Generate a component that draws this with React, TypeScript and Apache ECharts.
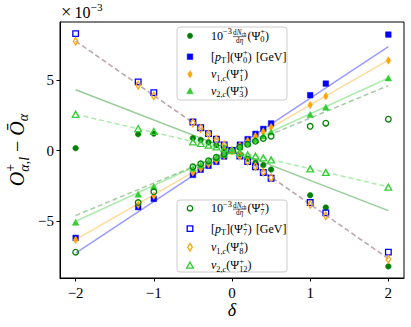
import React, { useEffect, useRef } from 'react';
import * as echarts from 'echarts';

// ---------------- data (values in units of 1e-3) ----------------
const delta = [-2, -1.2, -1, -0.5, -0.4, -0.3, -0.2, -0.1, 0, 0.1, 0.2, 0.3, 0.4, 0.5, 1, 1.2, 2];

const dNchPsi0 = [0.17, 1.16, 1.2, 0.88, 0.76, 0.59, 0.38, 0.18, 0, -0.28, -0.58, -0.85, -1.03, -1.34, -3.16, -4.03, -8.2];
const pTPsi0 = [-6.18, -4.0, -3.42, -1.72, -1.36, -1.08, -0.8, -0.42, 0, 0.42, 0.81, 1.18, 1.53, 1.92, 3.92, 4.74, 8.21];
const v1Psi1 = [-6.32, -3.84, -3.2, -1.55, -1.27, -0.97, -0.7, -0.36, 0, 0.36, 0.69, 1.02, 1.34, 1.66, 3.23, 3.85, 6.37];
const v2Psi3 = [-5.07, -3.09, -2.55, -1.25, -1.02, -0.77, -0.52, -0.27, 0, 0.27, 0.52, 0.78, 1.03, 1.32, 2.55, 3.07, 5.14];
const dNchPsi7 = [-7.19, -3.68, -2.92, -1.15, -0.94, -0.72, -0.48, -0.25, 0, 0.24, 0.44, 0.66, 0.86, 1.02, 1.72, 1.94, 2.22];
const pTPsi7 = [8.28, 4.86, 4.1, 2.02, 1.62, 1.2, 0.8, 0.4, 0, -0.39, -0.78, -1.15, -1.55, -1.96, -3.68, -4.41, -7.19];
const v1Psi8 = [7.74, 4.63, 3.87, 1.95, 1.56, 1.16, 0.78, 0.39, 0, -0.38, -0.76, -1.13, -1.52, -1.92, -3.82, -4.62, -7.69];
const v2Psi12 = [2.57, 1.56, 1.35, 0.62, 0.5, 0.38, 0.26, 0.13, 0, -0.13, -0.3, -0.4, -0.52, -0.66, -1.3, -1.55, -2.59];

// linear fits, evaluated at the ends of the delta range
const fitX = [-2, 2];
const fitDNchPsi0 = [4.3, -4.25];
const fitPTPsi0 = [-7.26, 7.36];
const fitV1Psi1 = [-6.3, 6.4];
const fitV2Psi3 = [-5.0, 5.14];
const fitDNchPsi7 = [-4.6, 4.6];
const fitPTPsi7 = [7.75, -7.65];
const fitV1Psi8 = [7.75, -7.65];
const fitV2Psi12 = [2.57, -2.57];

const xTicks = [-2, -1, 0, 1, 2];
const yTicks = [-5, 0, 5];

// ---------------- styling ----------------
const FONT = '"Liberation Serif", "DejaVu Serif", serif';
const GREEN = '#008000';
const BLUE = '#0000ff';
const ORANGE = '#ffa500';
const LIME = '#32cd32';

type Tok = { t: string; sc?: number; b?: number; it?: boolean };
type Item = Tok | { frac: [Tok[], Tok[]] } | { stack: [Tok[], Tok[]] } | { gap: number };

let mctx: CanvasRenderingContext2D | null = null;
function tw(tok: Tok, F: number): number {
  if (!mctx) mctx = document.createElement('canvas').getContext('2d');
  const size = F * (tok.sc ?? 1);
  mctx!.font = `${tok.it ? 'italic ' : ''}${size}px ${FONT}`;
  return mctx!.measureText(tok.t).width;
}
function runW(toks: Tok[], F: number) {
  return toks.reduce((s, t) => s + tw(t, F), 0);
}
function itemW(it: Item, F: number): number {
  if ('gap' in it) return it.gap * F;
  if ('frac' in it) return Math.max(runW(it.frac[0], F), runW(it.frac[1], F)) + 0.2 * F;
  if ('stack' in it) return Math.max(runW(it.stack[0], F), runW(it.stack[1], F));
  return tw(it as Tok, F);
}
function mathW(items: Item[], F: number) {
  return items.reduce((s, i) => s + itemW(i, F), 0);
}
function tokEl(tok: Tok, x: number, B: number, F: number, z: number): any {
  const size = F * (tok.sc ?? 1);
  const base = B + (tok.b ?? 0) * F;
  return {
    type: 'text',
    x,
    y: base - 0.34 * size,
    z,
    style: {
      text: tok.t,
      fontSize: size,
      fontFamily: FONT,
      fontStyle: tok.it ? 'italic' : 'normal',
      fill: '#000',
      textAlign: 'left',
      align: 'left',
      textVerticalAlign: 'middle',
      verticalAlign: 'middle',
    },
  };
}
function placeRun(toks: Tok[], x: number, B: number, F: number, out: any[], z: number) {
  let cx = x;
  for (const t of toks) {
    out.push(tokEl(t, cx, B, F, z));
    cx += tw(t, F);
  }
  return cx;
}
function mathEls(items: Item[], x: number, B: number, F: number, z = 100): any[] {
  const out: any[] = [];
  let cx = x;
  for (const it of items) {
    if ('gap' in it) {
      cx += it.gap * F;
      continue;
    }
    if ('frac' in it) {
      const wn = runW(it.frac[0], F);
      const wd = runW(it.frac[1], F);
      const w = Math.max(wn, wd);
      const x0 = cx + 0.1 * F;
      placeRun(it.frac[0], x0 + (w - wn) / 2, B, F, out, z);
      placeRun(it.frac[1], x0 + (w - wd) / 2, B, F, out, z);
      out.push({
        type: 'line',
        z,
        shape: { x1: x0, y1: B - 0.27 * F, x2: x0 + w, y2: B - 0.27 * F },
        style: { stroke: '#000', lineWidth: 0.6 },
      });
      cx += w + 0.2 * F;
      continue;
    }
    if ('stack' in it) {
      const a = placeRun(it.stack[0], cx, B, F, out, z);
      const b = placeRun(it.stack[1], cx, B, F, out, z);
      cx = Math.max(a, b);
      continue;
    }
    out.push(tokEl(it as Tok, cx, B, F, z));
    cx += tw(it as Tok, F);
  }
  return out;
}

const sub = (t: string, it = false): Tok => ({ t, sc: 0.7, b: 0.22, it });
const sup = (t: string): Tok => ({ t, sc: 0.7, b: -0.42 });
const psi = (n: string): Item[] => [{ t: '(Ψ' }, { stack: [[sub(n)], [sup('+')]] }, { t: ')' }];
const dndeta: Item = {
  frac: [
    [
      { t: 'd', sc: 0.6, b: -0.36 },
      { t: 'N', sc: 0.6, b: -0.36, it: true },
      { t: 'ch', sc: 0.42, b: -0.28 },
    ],
    [
      { t: 'd', sc: 0.6, b: 0.26 },
      { t: 'η', sc: 0.6, b: 0.26, it: true },
    ],
  ],
};
const labDNch = (n: string): Item[] => [{ t: '10' }, sup('−3'), dndeta, ...psi(n)];
const labPT = (n: string): Item[] => [{ t: '[' }, { t: 'p', it: true }, sub('T'), { t: ']' }, ...psi(n), { gap: 0.35 }, { t: '[GeV]' }];
const labV = (k: string, n: string): Item[] => [{ t: 'v', it: true }, { t: k + ',', sc: 0.7, b: 0.22 }, { t: 'c', sc: 0.7, b: 0.22, it: true }, ...psi(n)];

type Mk = { shape: 'circle' | 'rect' | 'diamond' | 'triangle'; color: string; open: boolean };
function markerEl(m: Mk, cx: number, cy: number): any {
  const style = m.open
    ? { fill: 'rgba(255,255,255,0)', stroke: m.color, lineWidth: 1.3 }
    : { fill: m.color, stroke: m.color, lineWidth: 0.5 };
  if (m.shape === 'circle') return { type: 'circle', z: 101, shape: { cx, cy, r: 2.7 }, style };
  if (m.shape === 'rect') return { type: 'rect', z: 101, shape: { x: cx - 2.8, y: cy - 2.8, width: 5.6, height: 5.6 }, style };
  if (m.shape === 'diamond')
    return { type: 'polygon', z: 101, shape: { points: [[cx, cy - 3.8], [cx + 2.3, cy], [cx, cy + 3.8], [cx - 2.3, cy]] }, style };
  return { type: 'polygon', z: 101, shape: { points: [[cx, cy - 3.2], [cx + 3.3, cy + 2.8], [cx - 3.3, cy + 2.8]] }, style };
}

function legendBox(x: number, y: number, w: number, h: number, rows: { yc: number; mk: Mk; lab: Item[] }[]) {
  const F = 12;
  const els: any[] = [
    {
      type: 'rect',
      z: 99,
      shape: { x, y, width: w, height: h, r: 3 },
      style: { fill: 'rgba(255,255,255,0.8)', stroke: '#cccccc', lineWidth: 1 },
    },
  ];
  for (const r of rows) {
    els.push(markerEl(r.mk, x + 13, r.yc));
    els.push(...mathEls(r.lab, x + 34, r.yc + 0.34 * F, F));
  }
  return els;
}

function buildOption(): any {
  const scatter = (name: string, ys: number[], mk: Mk) => {
    const size =
      mk.shape === 'diamond' ? [4.6, 7.6] : mk.shape === 'triangle' ? [6.6, 6] : mk.shape === 'rect' ? 5.6 : 5.6;
    return {
      type: 'scatter',
      name,
      data: delta.map((d, i) => [d, ys[i]]),
      symbol: mk.shape,
      symbolSize: size,
      silent: true,
      z: 3,
      itemStyle: mk.open
        ? { color: 'rgba(255,255,255,0)', borderColor: mk.color, borderWidth: 1.3, opacity: 1 }
        : { color: mk.color, borderColor: mk.color, borderWidth: 0.5, opacity: 1 },
    };
  };
  const fit = (ys: number[], color: string, dashed: boolean, alpha: number) => ({
    type: 'line',
    data: fitX.map((x, i) => [x, ys[i]]),
    symbol: 'none',
    showSymbol: false,
    silent: true,
    z: 2,
    lineStyle: { color, width: 1.5, opacity: alpha, type: dashed ? [5, 3] : 'solid' },
  });

  const mk = {
    dN0: { shape: 'circle', color: GREEN, open: false } as Mk,
    pT0: { shape: 'rect', color: BLUE, open: false } as Mk,
    v11: { shape: 'diamond', color: ORANGE, open: false } as Mk,
    v23: { shape: 'triangle', color: LIME, open: false } as Mk,
    dN7: { shape: 'circle', color: GREEN, open: true } as Mk,
    pT7: { shape: 'rect', color: BLUE, open: true } as Mk,
    v18: { shape: 'diamond', color: ORANGE, open: true } as Mk,
    v212: { shape: 'triangle', color: LIME, open: true } as Mk,
  };

  const fmt = (v: number) => String(v).replace('-', '−');

  // y-axis label (rotated)
  const FY = 20;
  const yLabItems: Item[] = [
    { t: 'O', it: true },
    {
      stack: [
        [
          { t: 'α', sc: 0.7, b: 0.25, it: true },
          { t: ',', sc: 0.7, b: 0.25 },
          { t: 'l', sc: 0.7, b: 0.25, it: true },
        ],
        [{ t: '+', sc: 0.7, b: -0.42 }],
      ],
    },
    { gap: 0.25 },
    { t: '−' },
    { gap: 0.25 },
    { t: 'Ō', it: true },
    { t: 'α', sc: 0.7, b: 0.22, it: true },
  ];
  const yW = mathW(yLabItems, FY);
  const yLabel = {
    type: 'group',
    x: 17,
    y: 150,
    rotation: Math.PI / 2,
    children: mathEls(yLabItems, -yW / 2, 0.34 * FY, FY),
  };

  const offsetText = mathEls(
    [{ t: '×', sc: 1.15 }, { gap: 0.2 }, { t: '10' }, { t: '−3', sc: 0.7, b: -0.45 }],
    61,
    18,
    16
  );

  const xLabel = {
    type: 'text',
    x: 232,
    y: 310,
    z: 100,
    style: {
      text: 'δ',
      fontSize: 18,
      fontFamily: FONT,
      fontStyle: 'italic',
      fill: '#000',
      textAlign: 'center',
      align: 'center',
      textVerticalAlign: 'middle',
      verticalAlign: 'middle',
    },
  };

  const legend1 = legendBox(177, 27, 110, 73, [
    { yc: 35.8, mk: mk.dN0, lab: labDNch('0') },
    { yc: 56.7, mk: mk.pT0, lab: labPT('0') },
    { yc: 74.3, mk: mk.v11, lab: labV('1', '1') },
    { yc: 91.0, mk: mk.v23, lab: labV('2', '3') },
  ]);
  const legend2 = legendBox(177, 200, 110, 72, [
    { yc: 208.3, mk: mk.dN7, lab: labDNch('7') },
    { yc: 228.6, mk: mk.pT7, lab: labPT('7') },
    { yc: 247.2, mk: mk.v18, lab: labV('1', '8') },
    { yc: 265.3, mk: mk.v212, lab: labV('2', '12') },
  ]);

  return {
    animation: false,
    backgroundColor: '#fff',
    grid: {
      left: 60,
      right: 7,
      top: 22,
      bottom: 49,
      show: true,
      borderColor: '#000',
      borderWidth: 1,
      backgroundColor: 'transparent',
      containLabel: false,
      outerBoundsMode: 'none',
    },
    xAxis: {
      type: 'value',
      min: -2.2,
      max: 2.2,
      axisLine: { show: true, onZero: false, lineStyle: { color: '#000', width: 1 } },
      axisTick: { show: true, inside: false, length: 3.5, customValues: xTicks, lineStyle: { color: '#000', width: 1 } },
      axisLabel: { customValues: xTicks, formatter: fmt, fontSize: 15, fontFamily: FONT, color: '#000', margin: 7 },
      splitLine: { show: false },
    },
    yAxis: {
      type: 'value',
      min: -9.02,
      max: 9.1,
      axisLine: { show: true, onZero: false, lineStyle: { color: '#000', width: 1 } },
      axisTick: { show: true, inside: false, length: 3.5, customValues: yTicks, lineStyle: { color: '#000', width: 1 } },
      axisLabel: { customValues: yTicks, formatter: fmt, fontSize: 15, fontFamily: FONT, color: '#000', margin: 6 },
      splitLine: { show: false },
    },
    series: [
      fit(fitDNchPsi0, GREEN, false, 0.4),
      fit(fitPTPsi0, BLUE, false, 0.4),
      fit(fitV1Psi1, ORANGE, false, 0.4),
      fit(fitV2Psi3, LIME, false, 0.4),
      fit(fitDNchPsi7, '#006400', true, 0.35),
      fit(fitPTPsi7, BLUE, true, 0.35),
      fit(fitV1Psi8, ORANGE, true, 0.35),
      fit(fitV2Psi12, LIME, true, 0.4),
      scatter('dNch Psi0', dNchPsi0, mk.dN0),
      scatter('pT Psi0', pTPsi0, mk.pT0),
      scatter('v1 Psi1', v1Psi1, mk.v11),
      scatter('v2 Psi3', v2Psi3, mk.v23),
      scatter('dNch Psi7', dNchPsi7, mk.dN7),
      scatter('pT Psi7', pTPsi7, mk.pT7),
      scatter('v1 Psi8', v1Psi8, mk.v18),
      scatter('v2 Psi12', v2Psi12, mk.v212),
    ],
    graphic: [yLabel, xLabel, ...offsetText, ...legend1, ...legend2],
  };
}

export default function App() {
  const ref = useRef<HTMLDivElement>(null);
  useEffect(() => {
    const chart = echarts.init(ref.current!, null, { renderer: 'svg' });
    chart.setOption(buildOption());
    return () => chart.dispose();
  }, []);
  return <div ref={ref} style={{ position: 'absolute', left: 0, top: 0, width: 411, height: 327 }} />;
}
